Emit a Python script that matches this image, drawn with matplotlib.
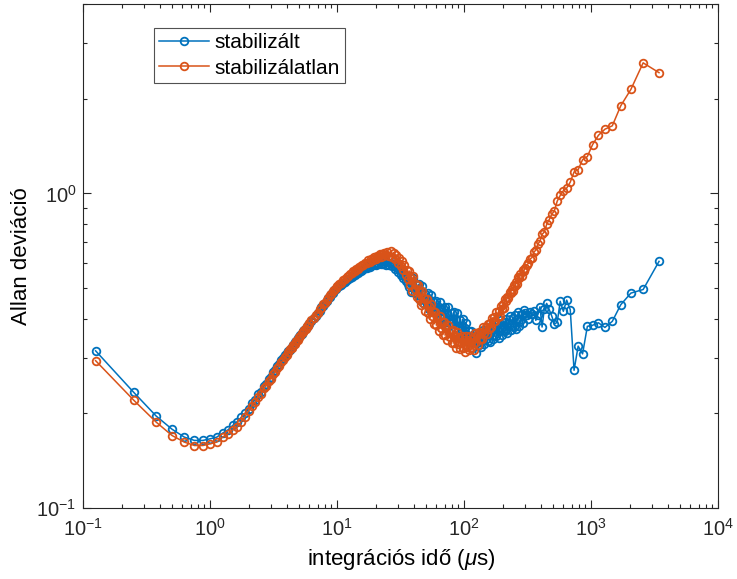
import numpy as np
import matplotlib
matplotlib.use("Agg")
import matplotlib.pyplot as plt
from matplotlib.ticker import LogLocator, NullFormatter

# integration time (us), shared by both curves
tau = [
    0.125, 0.25, 0.375, 0.5, 0.625, 0.75, 0.875, 1.0,
    1.125, 1.25, 1.375, 1.5, 1.625, 1.75, 1.875, 2.0,
    2.125, 2.25, 2.375, 2.5, 2.625, 2.75, 2.875, 3.0,
    3.125, 3.25, 3.375, 3.5, 3.625, 3.75, 3.875, 4.0,
    4.125, 4.25, 4.375, 4.5, 4.625, 4.75, 4.875, 5.0,
    5.125, 5.25, 5.375, 5.5, 5.625, 5.75, 5.875, 6.0,
    6.25, 6.5, 6.75, 7.0, 7.25, 7.5, 7.75, 8.0,
    8.25, 8.5, 8.75, 9.0, 9.25, 9.5, 9.75, 10.0,
    10.375, 10.75, 11.125, 11.5, 11.875, 12.25, 12.625, 13.0,
    13.375, 13.75, 14.125, 14.5, 14.875, 15.25, 15.625, 16.0,
    16.5, 17.0, 17.5, 18.0, 18.5, 19.0, 19.5, 20.0,
    20.5, 21.0, 21.5, 22.0, 22.5, 23.0, 23.5, 24.0,
    24.75, 25.5, 26.25, 27.0, 27.75, 28.5, 29.25, 30.0,
    30.75, 31.5, 32.25, 33.0, 33.75, 34.5, 35.25, 36.0,
    36.8, 37.5, 38.3, 39.0, 39.8, 40.6, 41.4, 42.2,
    43.1, 43.9, 44.8, 45.7, 46.6, 47.6, 48.5, 49.5,
    50.5, 51.5, 52.5, 53.6, 54.6, 55.7, 56.8, 58.0,
    59.1, 60.3, 61.5, 62.8, 64.0, 65.3, 66.6, 67.9,
    69.3, 70.7, 72.1, 73.5, 75.0, 76.5, 78.0, 79.6,
    81.2, 82.8, 84.5, 86.1, 87.9, 89.6, 91.4, 93.2,
    95.1, 97.0, 98.9, 100.9, 102.9, 105.0, 107.1, 109.2,
    111.4, 113.6, 115.9, 118.2, 120.6, 123.0, 125.4, 127.9,
    130.5, 133.1, 135.8, 138.5, 141.3, 144.1, 147.0, 149.9,
    152.9, 156.0, 159.1, 162.3, 165.5, 168.8, 172.2, 175.7,
    179.2, 182.8, 186.4, 190.1, 193.9, 197.8, 201.8, 205.8,
    209.9, 214.1, 218.4, 222.8, 227.2, 231.8, 236.4, 241.1,
    246.0, 250.9, 255.9, 261.0, 266.2, 271.6, 277.0, 282.5,
    288.2, 293.9,
    301.3, 310.5, 320.2, 330.5, 341.5, 353.3, 365.9, 379.4,
    394.0, 409.8, 426.9, 445.4, 465.7, 487.9, 512.3, 539.2,
    569.2, 602.6, 640.3, 683.0, 731.8, 788.1, 853.8, 931.4,
    1024.5, 1138.3, 1280.6, 1463.6, 1707.5, 2049.0, 2561.3, 3415.0,
]

# Allan deviation, stabilized
adev_stab = [
    0.316, 0.233, 0.196, 0.178, 0.168, 0.164, 0.164, 0.166,
    0.168, 0.173, 0.177, 0.183, 0.188, 0.194, 0.200, 0.207,
    0.216, 0.221, 0.230, 0.234, 0.244, 0.248, 0.257, 0.261,
    0.270, 0.275, 0.282, 0.286, 0.295, 0.299, 0.306, 0.310,
    0.316, 0.319, 0.326, 0.329, 0.336, 0.339, 0.346, 0.349,
    0.356, 0.358, 0.365, 0.367, 0.374, 0.376, 0.383, 0.385,
    0.392, 0.402, 0.408, 0.418, 0.424, 0.434, 0.439, 0.449,
    0.454, 0.464, 0.469, 0.478, 0.483, 0.492, 0.497, 0.505,
    0.507, 0.511, 0.519, 0.523, 0.530, 0.533, 0.540, 0.543,
    0.549, 0.551, 0.557, 0.559, 0.565, 0.566, 0.572, 0.574,
    0.580, 0.581, 0.587, 0.584, 0.593, 0.590, 0.598, 0.594,
    0.602, 0.598, 0.606, 0.598, 0.608, 0.596, 0.609, 0.594,
    0.606, 0.594, 0.603, 0.586, 0.594, 0.574, 0.585, 0.562,
    0.573, 0.550, 0.562, 0.538, 0.550, 0.526, 0.538, 0.515,
    0.505, 0.548, 0.487, 0.519, 0.540, 0.481, 0.492, 0.513,
    0.474, 0.514, 0.457, 0.487, 0.506, 0.450, 0.461, 0.480,
    0.444, 0.482, 0.429, 0.457, 0.476, 0.424, 0.435, 0.453,
    0.420, 0.456, 0.407, 0.434, 0.453, 0.403, 0.414, 0.433,
    0.402, 0.437, 0.390, 0.416, 0.434, 0.388, 0.398, 0.416,
    0.386, 0.420, 0.374, 0.400, 0.417, 0.372, 0.380, 0.396,
    0.367, 0.398, 0.352, 0.374, 0.388, 0.345, 0.351, 0.365,
    0.337, 0.364, 0.323, 0.345, 0.361, 0.310, 0.334, 0.352,
    0.329, 0.360, 0.325, 0.350, 0.369, 0.333, 0.345, 0.364,
    0.340, 0.374, 0.336, 0.363, 0.382, 0.345, 0.356, 0.376,
    0.352, 0.387, 0.348, 0.375, 0.395, 0.356, 0.368, 0.389,
    0.364, 0.400, 0.359, 0.388, 0.408, 0.368, 0.380, 0.401,
    0.375, 0.412, 0.371, 0.400, 0.421, 0.379, 0.392, 0.414,
    0.387, 0.425,
    0.418, 0.412, 0.400, 0.420, 0.415, 0.422, 0.395, 0.412,
    0.436, 0.376, 0.430, 0.447, 0.428, 0.408, 0.385, 0.389,
    0.454, 0.422, 0.458, 0.427, 0.274, 0.327, 0.309, 0.378,
    0.381, 0.388, 0.375, 0.392, 0.443, 0.482, 0.495, 0.608,
]

# Allan deviation, not stabilized
adev_unstab = [
    0.294, 0.220, 0.1875, 0.170, 0.162, 0.158, 0.158, 0.160,
    0.162, 0.168, 0.172, 0.177, 0.181, 0.188, 0.195, 0.203,
    0.211, 0.217, 0.226, 0.231, 0.240, 0.245, 0.253, 0.258,
    0.266, 0.271, 0.279, 0.283, 0.291, 0.295, 0.303, 0.307,
    0.313, 0.320, 0.323, 0.330, 0.333, 0.340, 0.343, 0.350,
    0.352, 0.359, 0.362, 0.368, 0.371, 0.378, 0.380, 0.386,
    0.395, 0.401, 0.412, 0.417, 0.428, 0.433, 0.444, 0.449,
    0.459, 0.464, 0.474, 0.478, 0.488, 0.492, 0.502, 0.506,
    0.516, 0.519, 0.530, 0.533, 0.543, 0.545, 0.555, 0.557,
    0.566, 0.567, 0.576, 0.577, 0.585, 0.586, 0.594, 0.594,
    0.603, 0.602, 0.612, 0.606, 0.620, 0.614, 0.627, 0.620,
    0.634, 0.626, 0.640, 0.630, 0.644, 0.633, 0.648, 0.636,
    0.652, 0.632, 0.655, 0.628, 0.648, 0.618, 0.637, 0.603,
    0.625, 0.588, 0.610, 0.570, 0.590, 0.552, 0.572, 0.535,
    0.567, 0.513, 0.538, 0.490, 0.545, 0.497, 0.515, 0.469,
    0.511, 0.462, 0.485, 0.441, 0.491, 0.448, 0.466, 0.424,
    0.462, 0.418, 0.439, 0.400, 0.445, 0.407, 0.422, 0.385,
    0.421, 0.381, 0.401, 0.366, 0.408, 0.374, 0.389, 0.356,
    0.391, 0.354, 0.373, 0.341, 0.382, 0.350, 0.366, 0.334,
    0.368, 0.334, 0.353, 0.323, 0.363, 0.333, 0.349, 0.320,
    0.353, 0.322, 0.341, 0.314, 0.353, 0.326, 0.343, 0.317,
    0.352, 0.323, 0.344, 0.319, 0.361, 0.336, 0.355, 0.330,
    0.362, 0.344, 0.361, 0.345, 0.376, 0.360, 0.375, 0.358,
    0.384, 0.371, 0.387, 0.375, 0.403, 0.391, 0.406, 0.394,
    0.419, 0.405, 0.422, 0.409, 0.440, 0.428, 0.444, 0.431,
    0.463, 0.456, 0.469, 0.466, 0.487, 0.483, 0.497, 0.491,
    0.512, 0.506, 0.521, 0.517, 0.541, 0.538, 0.553, 0.548,
    0.572, 0.566,
    0.580, 0.592, 0.600, 0.620, 0.625, 0.651, 0.660, 0.690,
    0.704, 0.741, 0.754, 0.797, 0.825, 0.858, 0.880, 0.945,
    0.985, 1.020, 1.040, 1.086, 1.170, 1.190, 1.280, 1.310,
    1.430, 1.530, 1.600, 1.640, 1.900, 2.140, 2.600, 2.420,
]

labels = ['stabilizált', 'stabilizálatlan']

plt.rcParams['font.family'] = ['Liberation Sans', 'DejaVu Sans']
plt.rcParams['mathtext.fontset'] = 'custom'
plt.rcParams['mathtext.rm'] = 'Liberation Sans'
plt.rcParams['mathtext.it'] = 'Liberation Sans:italic'
plt.rcParams['mathtext.default'] = 'regular'
plt.rcParams['axes.unicode_minus'] = False

fig = plt.figure(figsize=(7.37, 5.79), dpi=100)
ax = fig.add_axes([0.1130, 0.1226, 0.8616, 0.8705])

ax.plot(tau, adev_stab, 'o-', color='#0072BD', lw=1.1, ms=5.5, mew=1.3,
        mfc='none', label=labels[0])
ax.plot(tau, adev_unstab, 'o-', color='#D95319', lw=1.1, ms=5.5, mew=1.3,
        mfc='none', label=labels[1])

ax.set_xscale('log')
ax.set_yscale('log')
ax.set_xlim(0.1, 1e4)
ax.set_ylim(0.1, 4)

ax.xaxis.set_major_locator(LogLocator(base=10, numticks=10))
ax.xaxis.set_minor_locator(LogLocator(base=10, subs=np.arange(2, 10), numticks=20))
ax.yaxis.set_minor_locator(LogLocator(base=10, subs=np.arange(2, 10), numticks=20))
ax.xaxis.set_minor_formatter(NullFormatter())
ax.yaxis.set_minor_formatter(NullFormatter())

ax.tick_params(which='both', direction='in', top=True, right=True,
               colors='#262626', labelsize=14.5, width=0.8)
ax.tick_params(which='major', length=6)
ax.tick_params(which='minor', length=3)
ax.tick_params(axis='x', pad=7)
ax.tick_params(axis='y', pad=5)
for s in ax.spines.values():
    s.set_color('#262626')
    s.set_linewidth(0.8)

ax.set_xlabel(r'integrációs idő ($\mathit{\mu}$s)', fontsize=16, labelpad=5)
ax.set_ylabel('Allan deviáció', fontsize=16, labelpad=3)

leg = ax.legend(loc='upper left', bbox_to_anchor=(0.111, 0.952), fontsize=15,
                frameon=True, fancybox=False, borderaxespad=0, borderpad=0.25,
                handlelength=2.4, handletextpad=0.25, labelspacing=0.3)
leg.get_frame().set_edgecolor('#262626')
leg.get_frame().set_linewidth(0.8)

plt.savefig('out.png', dpi=100)
plt.close()
